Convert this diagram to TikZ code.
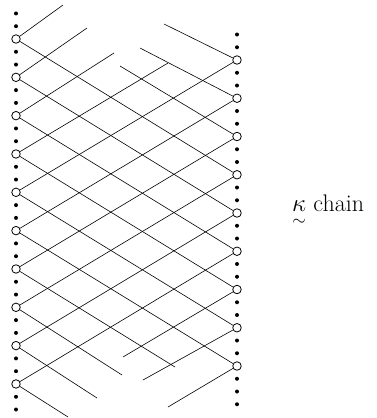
\documentclass[tikz,border=0pt]{standalone}
\usepackage{amsmath}
\usepackage{amssymb}
\usepackage{tikz}

\tikzset{
  ring/.style={circle, draw, fill=white, line width=0.8pt, inner sep=0pt, minimum size=8.5pt},
  wire/.style={line width=0.6pt},
}

\begin{document}
\begin{tikzpicture}[x=1pt, y=-1pt]
    \useasboundingbox (0,0) rectangle (376,418);

    % sites of the two columns
    \foreach \k in {0,...,9}
        \node[ring] (L\k) at (16,{39+38.33*\k}) {};
    \foreach \n in {0,...,8}
        \node[ring] (R\n) at (237,{60+38.25*\n}) {};

    \foreach \k in {-1,...,9}{
        \fill (16,{39+38.33*\k+12.78}) circle (2pt);
        \fill (16,{39+38.33*\k+25.56}) circle (2pt);
    }
    \foreach \n in {-1,...,7}{
        \fill (237,{60+38.25*\n+12.75}) circle (2pt);
        \fill (237,{60+38.25*\n+25.5}) circle (2pt);
    }
    \foreach \j in {1,2,3}
        \fill (237,{366+12.75*\j}) circle (2pt);

    % loose ends at top and bottom
    \coordinate (t0) at (63,5);
    \coordinate (t1) at (87,28);
    \coordinate (t2) at (114,53);
    \coordinate (t3) at (168,63);
    \coordinate (u0) at (164,24);
    \coordinate (u1) at (140,48);
    \coordinate (u2) at (120,66);
    \coordinate (b6) at (175,367);
    \coordinate (b7) at (122,375);
    \coordinate (b8) at (97,398);
    \coordinate (b9) at (68,417);
    \coordinate (c6) at (123,357);
    \coordinate (c7) at (143,380);
    \coordinate (c8) at (168,407);

    \foreach \k [evaluate=\k as \n using int(\k+3)] in {0,...,5}
        \draw[wire] (L\k) -- (R\n);
    \foreach \k [evaluate=\k as \n using int(\k-4)] in {4,...,9}
        \draw[wire] (L\k) -- (R\n);

    \foreach \a/\b in {L0/t0, L1/t1, L2/t2, L3/t3, R0/u0, R1/u1, R2/u2,
                       L6/b6, L7/b7, L8/b8, L9/b9, R6/c6, R7/c7, R8/c8}
        \draw[wire] (\a) -- (\b);

    \node[anchor=base west, font=\fontsize{24}{28}\selectfont, inner sep=0pt] (lbl)
        at (292,211) {$\underset{\sim}{\kappa}$ chain};
\end{tikzpicture}
\end{document}
